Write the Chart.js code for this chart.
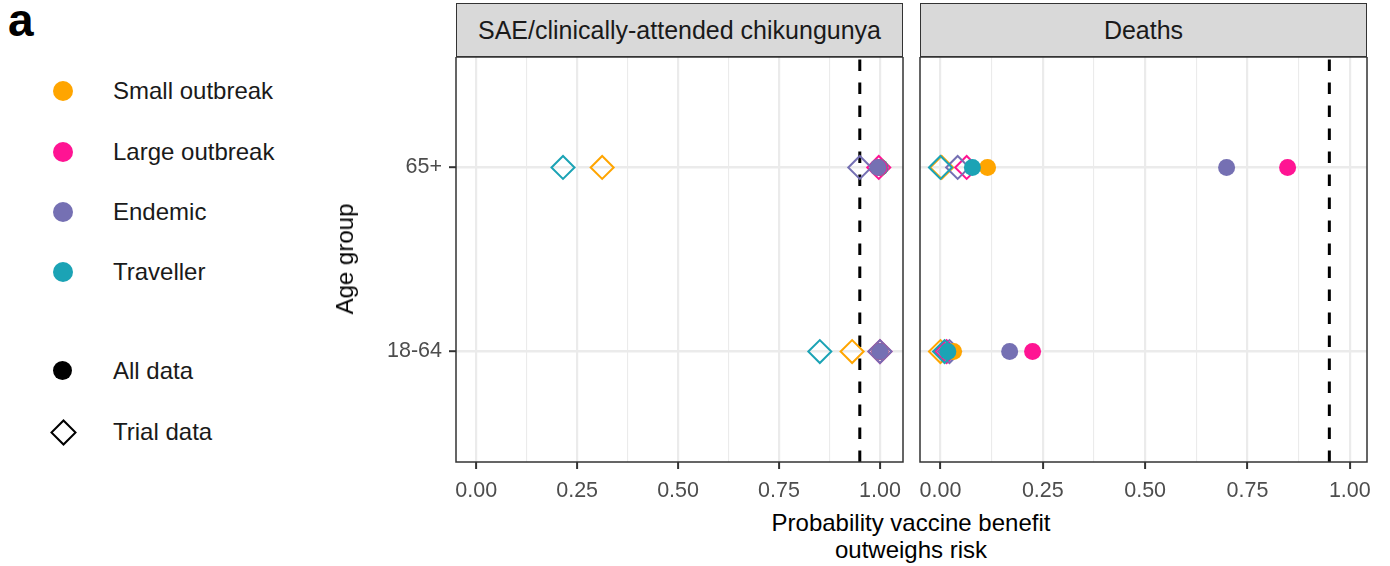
<!DOCTYPE html>
<html>
<head>
<meta charset="utf-8">
<script src="https://cdn.jsdelivr.net/npm/chart.js@4.4.1/dist/chart.umd.min.js"></script>
<style>
  body { margin: 0; background: #fff; font-family: "Liberation Sans", Arial, sans-serif; }
  #fig { position: relative; width: 1390px; height: 566px; overflow: hidden; background: #fff; }
  .tag { position: absolute; left: 8px; top: -7px; font-size: 46px; font-weight: bold; color: #000; }
  .key { position: absolute; left: 0; height: 40px; width: 300px; }
  .key .mark { position: absolute; left: 53px; top: 10px; width: 20px; height: 20px; border-radius: 50%; }
  .key .diamond { position: absolute; left: 54px; top: 11px; width: 15px; height: 15px;
                  border: 2.5px solid #000; transform: rotate(45deg); }
  .key .label { position: absolute; left: 113px; top: 5px; font-size: 24px; line-height: 30px; color: #1a1a1a; }
  .strip { position: absolute; top: 3px; height: 54px; box-sizing: border-box; background: #d9d9d9;
           border: 1.5px solid #333; font-size: 25px; color: #1a1a1a; text-align: center; line-height: 52px; }
  .panel { position: absolute; top: 57px; line-height: 0; }
  .ytitle { position: absolute; left: 345px; top: 259px; font-size: 24px; white-space: nowrap;
            transform: translate(-50%, -50%) rotate(-90deg); }
  .xtitle { position: absolute; left: 611px; top: 509px; width: 600px; text-align: center;
            font-size: 24px; line-height: 27px; }
</style>
</head>
<body>
<div id="fig">
  <div class="tag">a</div>
  <div id="legend"></div>
  <div class="strip" style="left:456px;width:447px">SAE/clinically-attended chikungunya</div>
  <div class="strip" style="left:920px;width:447px">Deaths</div>
  <div class="panel" style="left:330px"><canvas id="sae" width="580" height="450"></canvas></div>
  <div class="panel" style="left:910px"><canvas id="deaths" width="470" height="450"></canvas></div>
  <div class="ytitle">Age group</div>
  <div class="xtitle">Probability vaccine benefit<br>outweighs risk</div>
</div>
<script>
// Age groups on the y axis, bottom to top.
const ageGroups = ['18-64', '65+'];
const scenarios = ['Small outbreak', 'Large outbreak', 'Endemic', 'Traveller'];
const scenarioColours = ['#FFA500', '#FF1493', '#7570B3', '#1BA3B5'];

// Probability that benefit outweighs risk, one value per age group [18-64, 65+].
// SAE / clinically-attended chikungunya
const saeAllSmall     = [1.00, 1.00];
const saeAllLarge     = [1.00, 0.998];
const saeAllEndemic   = [1.00, 0.995];
const saeAllTraveller = [1.00, 1.00];
const saeTrialSmall     = [0.931, 0.312];
const saeTrialLarge     = [1.00, 0.997];
const saeTrialEndemic   = [1.00, 0.95];
const saeTrialTraveller = [0.851, 0.215];

// Deaths
const deathAllSmall     = [0.032, 0.115];
const deathAllLarge     = [0.225, 0.848];
const deathAllEndemic   = [0.169, 0.699];
const deathAllTraveller = [0.018, 0.078];
const deathTrialSmall     = [0.0, 0.003];
const deathTrialLarge     = [0.015, 0.064];
const deathTrialEndemic   = [0.022, 0.042];
const deathTrialTraveller = [0.01, 0.0];

const threshold = 0.95;
const xMajorTicks = [0, 0.25, 0.5, 0.75, 1];
const xMinorTicks = [0.125, 0.375, 0.625, 0.875];

const legendSources = ['All data', 'Trial data'];

// Legend on the left: scenario colours, then data source shapes.
const buildLegend = () => {
  const host = document.getElementById('legend');
  const rows = [71, 132, 192, 252];
  scenarios.forEach((name, i) => {
    host.insertAdjacentHTML('beforeend',
      `<div class="key" style="top:${rows[i]}px"><span class="mark" style="background:${scenarioColours[i]}"></span>` +
      `<span class="label">${name}</span></div>`);
  });
  host.insertAdjacentHTML('beforeend',
    `<div class="key" style="top:351px"><span class="mark" style="background:#000;width:19px;height:19px"></span>` +
    `<span class="label">${legendSources[0]}</span></div>`);
  host.insertAdjacentHTML('beforeend',
    `<div class="key" style="top:412px"><span class="diamond"></span>` +
    `<span class="label">${legendSources[1]}</span></div>`);
};

const toPoints = values => values.map((v, i) => ({ x: v, y: i + 1 }));

const circleSet = (values, colour, order) => ({
  data: toPoints(values), pointStyle: 'circle', pointRadius: 8.5, pointHoverRadius: 8.5,
  pointBackgroundColor: colour, pointBorderWidth: 0, order
});

const diamondSet = (values, colour, order) => ({
  data: toPoints(values), pointStyle: 'rectRot', pointRadius: 11.5, pointHoverRadius: 11.5,
  pointBackgroundColor: 'rgba(0,0,0,0)', pointBorderColor: colour, pointBorderWidth: 2, order
});

// Panel frame and the dashed decision threshold.
const panelDecor = {
  id: 'panelDecor',
  beforeDatasetsDraw(chart) {
    const { ctx, chartArea, scales } = chart;
    const px = scales.x.getPixelForValue(threshold);
    ctx.save();
    ctx.strokeStyle = '#000';
    ctx.lineWidth = 3;
    ctx.setLineDash([11.5, 11.5]);
    ctx.beginPath();
    ctx.moveTo(px, chartArea.bottom);
    ctx.lineTo(px, chartArea.top);
    ctx.stroke();
    ctx.restore();
  },
  afterDraw(chart) {
    const { ctx, chartArea: a } = chart;
    ctx.save();
    ctx.strokeStyle = '#333';
    ctx.lineWidth = 1.5;
    ctx.strokeRect(a.left, a.top, a.right - a.left, a.bottom - a.top);
    ctx.restore();
  }
};

const isMajor = v => xMajorTicks.some(t => Math.abs(t - v) < 1e-9);

// No label overhang padding: the plot box has fixed edges.
const noOverhang = s => { s.paddingTop = 0; s.paddingBottom = 0; s.paddingLeft = 0; s.paddingRight = 0; };

const makePanel = (canvasId, sets, showY, yAxisWidth, padRight, xMax) => new Chart(
  document.getElementById(canvasId), {
    type: 'scatter',
    data: { datasets: sets },
    plugins: [panelDecor],
    options: {
      responsive: false,
      animation: false,
      events: [],
      layout: { autoPadding: false, padding: { top: 0, right: padRight, bottom: 0, left: 0 } },
      plugins: { legend: { display: false }, tooltip: { enabled: false } },
      scales: {
        x: {
          type: 'linear', min: -0.05, max: xMax,
          afterBuildTicks: s => { s.ticks = [...xMajorTicks, ...xMinorTicks].sort((a, b) => a - b).map(value => ({ value })); },
          afterFit: s => { s.height = 45; noOverhang(s); },
          border: { display: false },
          grid: {
            color: '#ebebeb',
            lineWidth: c => isMajor(c.tick.value) ? 2.2 : 1.1,
            tickLength: 7,
            tickWidth: 2,
            tickColor: c => isMajor(c.tick.value) ? '#333' : 'rgba(0,0,0,0)'
          },
          ticks: {
            autoSkip: false, maxRotation: 0, padding: 9, color: '#4d4d4d',
            font: { family: '"Liberation Sans", Arial, sans-serif', size: 21.5 },
            callback: v => isMajor(v) ? v.toFixed(2) : ''
          }
        },
        y: {
          type: 'linear', min: 0.4, max: 2.6,
          afterBuildTicks: s => { s.ticks = ageGroups.map((_, i) => ({ value: i + 1 })); },
          afterFit: s => { s.width = yAxisWidth; noOverhang(s); },
          border: { display: false },
          grid: { color: '#ebebeb', lineWidth: 2.4, drawTicks: showY, tickLength: 7, tickWidth: 2, tickColor: '#333' },
          ticks: {
            display: showY, padding: 7, color: '#4d4d4d',
            font: { family: '"Liberation Sans", Arial, sans-serif', size: 21.5 },
            callback: v => ageGroups[v - 1]
          }
        }
      }
    }
  });

const panelSets = (all, trial) => [
  ...trial.map((vals, i) => diamondSet(vals, scenarioColours[i], 50 - i)),
  circleSet(all[0], scenarioColours[0], 13),
  circleSet(all[3], scenarioColours[3], 12),
  circleSet(all[1], scenarioColours[1], 11),
  circleSet(all[2], scenarioColours[2], 10)
];

buildLegend();

makePanel('sae',
  panelSets([saeAllSmall, saeAllLarge, saeAllEndemic, saeAllTraveller],
            [saeTrialSmall, saeTrialLarge, saeTrialEndemic, saeTrialTraveller]),
  true, 126, 7, 1.057);

makePanel('deaths',
  panelSets([deathAllSmall, deathAllLarge, deathAllEndemic, deathAllTraveller],
            [deathTrialSmall, deathTrialLarge, deathTrialEndemic, deathTrialTraveller]),
  false, 10, 13, 1.042);
</script>
</body>
</html>
